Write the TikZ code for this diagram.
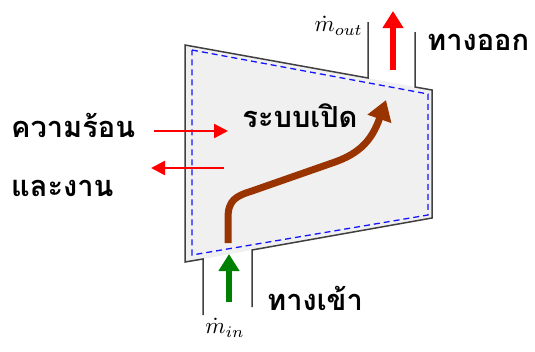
\RequirePackage{fix-cm}
\documentclass[tikz,border=0pt]{standalone}
\usepackage{fontspec}
\newfontfamily\thai[Script=Thai]{Loma}
\usetikzlibrary{arrows.meta}
\definecolor{fillgray}{RGB}{240,240,240}
\definecolor{cvblue}{RGB}{20,20,255}
\definecolor{brownpath}{RGB}{153,51,0}
\definecolor{darkgreen}{RGB}{0,128,0}
\tikzset{
  wall/.style={draw=black!75, line width=1.5pt, line join=miter},
  cv/.style={draw=cvblue, line width=1.3pt, dash pattern=on 6pt off 4pt},
  thaitext/.style={font=\thai\bfseries\fontsize{29}{32}\selectfont, inner sep=0pt},
  flowlabel/.style={inner sep=0pt},
  bigarrow/.style={line width=6pt, -{Triangle[width=20pt,length=17pt]}},
  thinarrow/.style={line width=2.5pt, -{Triangle[width=14pt,length=14pt]}},
}
\begin{document}
\begin{tikzpicture}[x=1pt,y=-1pt]
\useasboundingbox (0,0) rectangle (535,351);
% fill
\fill[fillgray] (185,45) -- (368,78) -- (415,87) -- (432,90) -- (432,218) -- (252,250) -- (203,259) -- (185,262) -- cycle;
% walls
\draw[wall] (203,315) -- (203,259) -- (185,262) -- (185,45) -- (368,78) -- (368,22);
\draw[wall] (415,32) -- (415,87) -- (432,90) -- (432,218) -- (252,250) -- (252,307);
% control volume
\draw[cv] (192,50) -- (428,94) -- (428,215) -- (192,255) -- cycle;
% nodes
\coordinate (hin0) at (154,131);
\coordinate (hin1) at (228,131);
\coordinate (w0) at (224,168);
\coordinate (w1) at (151,168);
\coordinate (out0) at (393,70);
\coordinate (out1) at (393,11);
\coordinate (in0) at (229,302);
\coordinate (in1) at (229,254);
\coordinate (pstart) at (228,243);
\coordinate (pend) at (386,100);
% arrows
\draw[red, thinarrow] (hin0) -- (hin1);
\draw[red, thinarrow] (w0) -- (w1);
\draw[red, bigarrow] (out0) -- (out1);
\draw[darkgreen, bigarrow] (in0) -- (in1);
\draw[brownpath, line width=7pt, -{Triangle[width=24pt,length=20pt]}]
  (pstart) -- (228,218) .. controls (228,200) and (236,196) .. (252,191)
  -- (335,162) .. controls (360,153) and (372,140) .. (pend);
% labels
\node[thaitext, anchor=west] (heat) at (11,125) {ความร้อน};
\node[thaitext, anchor=west] (work) at (11,188) {และงาน};
\node[thaitext] (sys) at (300,116) {ระบบเปิด};
\node[thaitext, anchor=west] (exit) at (427,42) {ทางออก};
\node[thaitext, anchor=west] (inlet) at (267,298) {ทางเข้า};
\node[flowlabel, anchor=east] (mout) at (363,26) {\scalebox{2.3}{$\dot m_{out}$}};
\node[flowlabel, anchor=north] (min) at (225,318) {\scalebox{2.3}{$\dot m_{in}$}};
\end{tikzpicture}
\end{document}
